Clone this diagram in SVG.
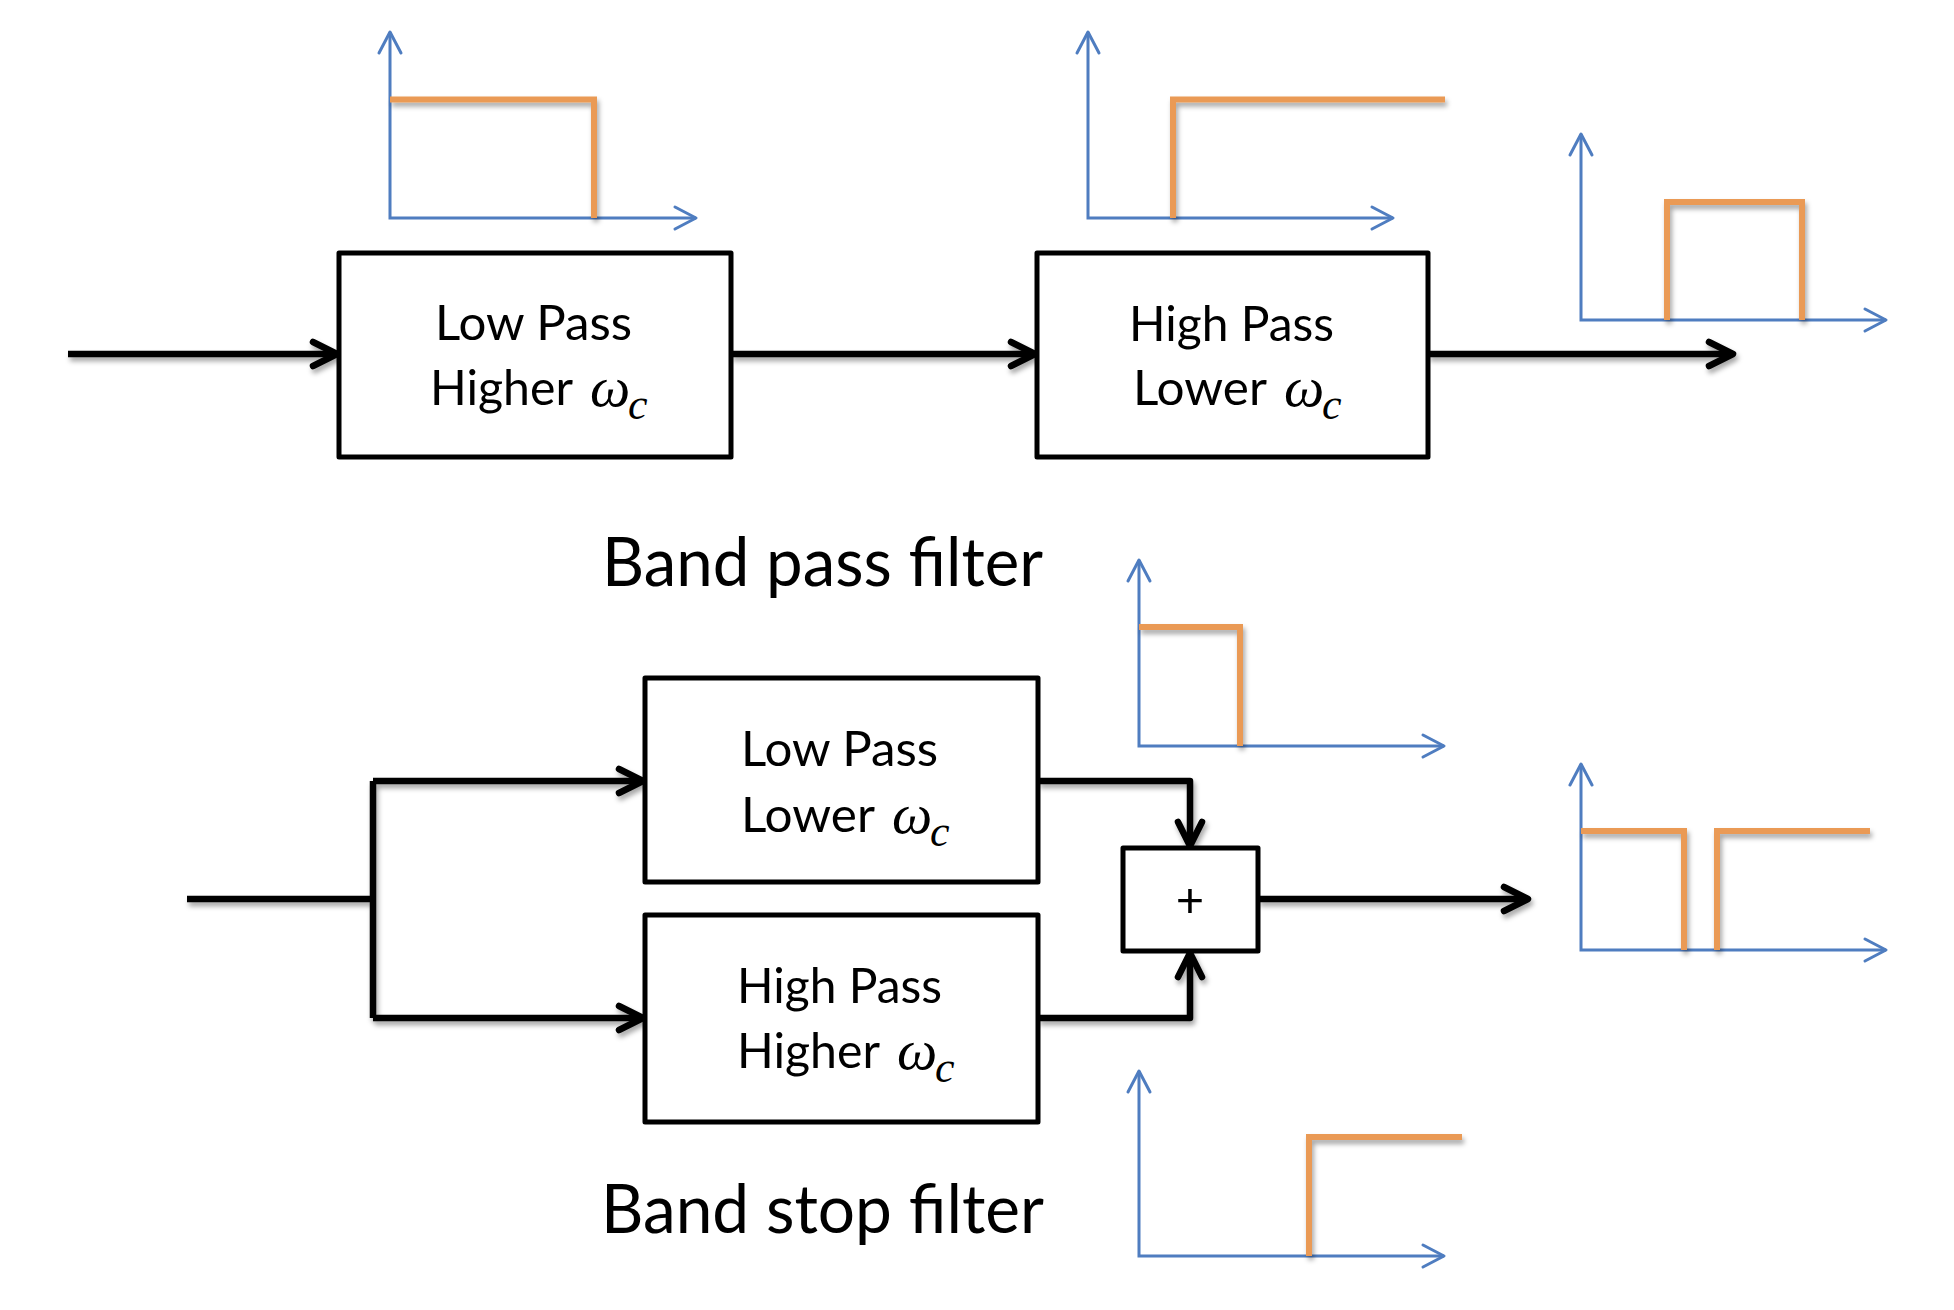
<svg xmlns="http://www.w3.org/2000/svg" width="1954" height="1310" viewBox="0 0 1954 1310">
<style>
.box{fill:#fff;stroke:#000;stroke-width:5;stroke-linejoin:round}
.wire{fill:none;stroke:#000;stroke-width:6.5;stroke-linejoin:round}
.arr{marker-end:url(#ah)}
.axis{fill:none;stroke:#4F7DC0;stroke-width:3;marker-start:url(#bh);marker-end:url(#bh)}
.resp{fill:none;stroke:#EA9A54;stroke-width:6;stroke-linejoin:miter}
.lbl{font-family:Lato,"Open Sans","Liberation Sans",sans-serif;font-size:49px;fill:#000}
.ttl{font-family:Lato,"Open Sans","Liberation Sans",sans-serif;font-size:67px;fill:#000}
.om{font-family:"Liberation Serif","DejaVu Serif",serif;font-style:italic;font-size:57px;fill:#000}
.sub{font-family:"Liberation Serif","DejaVu Serif",serif;font-style:italic;font-size:44px;fill:#000}
</style>
<defs>
<marker id="ah" markerUnits="userSpaceOnUse" markerWidth="40" markerHeight="40" viewBox="-30 -20 40 40" refX="0" refY="0" orient="auto" overflow="visible">
<path d="M-24,-12 L0,0 L-24,12" fill="none" stroke="#000" stroke-width="6.5" stroke-linecap="round" stroke-linejoin="round"/>
</marker>
<marker id="bh" markerUnits="userSpaceOnUse" markerWidth="40" markerHeight="40" viewBox="-30 -20 40 40" refX="0" refY="0" orient="auto-start-reverse" overflow="visible">
<path d="M-21,-11 L0,0 L-21,11" fill="none" stroke="#4F7DC0" stroke-width="3" stroke-linecap="round" stroke-linejoin="round"/>
</marker>
<filter id="sh" x="-10%" y="-10%" width="120%" height="130%">
<feDropShadow dx="2" dy="4" stdDeviation="2.5" flood-color="#000" flood-opacity="0.35"/>
</filter>
</defs>
<rect width="1954" height="1310" fill="#fff"/>

<g id="connectors" filter="url(#sh)">
<path class="wire arr" d="M68,354 H337"/>
<path class="wire arr" d="M731,354 H1035"/>
<path class="wire arr" d="M1428,354 H1733"/>
<path class="wire" d="M187,899 H373"/>
<path class="wire" d="M373,781 V1018"/>
<path class="wire arr" d="M373,781 H643"/>
<path class="wire arr" d="M373,1018 H643"/>
<path class="wire arr" d="M1038,781 H1190 V846"/>
<path class="wire arr" d="M1038,1018 H1190 V953"/>
<path class="wire arr" d="M1258,899 H1528"/>
</g>

<g id="lp-higher">
<rect class="box" x="339" y="253" width="392" height="204"/>
<text class="lbl" x="435" y="340" textLength="197" lengthAdjust="spacingAndGlyphs">Low Pass</text>
<text class="lbl" x="430" y="405" textLength="143" lengthAdjust="spacingAndGlyphs">Higher</text>
<text class="om" x="590" y="406">ω</text>
<text class="sub" x="628" y="419">c</text>
</g>

<g id="hp-lower">
<rect class="box" x="1037" y="253" width="391" height="204"/>
<text class="lbl" x="1129" y="341" textLength="205" lengthAdjust="spacingAndGlyphs">High Pass</text>
<text class="lbl" x="1133" y="405" textLength="134" lengthAdjust="spacingAndGlyphs">Lower</text>
<text class="om" x="1284" y="406">ω</text>
<text class="sub" x="1322" y="419">c</text>
</g>

<g id="lp-lower">
<rect class="box" x="645" y="678" width="393" height="204"/>
<text class="lbl" x="741" y="766" textLength="197" lengthAdjust="spacingAndGlyphs">Low Pass</text>
<text class="lbl" x="741" y="832" textLength="134" lengthAdjust="spacingAndGlyphs">Lower</text>
<text class="om" x="892" y="833">ω</text>
<text class="sub" x="930" y="846">c</text>
</g>

<g id="hp-higher">
<rect class="box" x="645" y="915" width="393" height="207"/>
<text class="lbl" x="737" y="1003" textLength="205" lengthAdjust="spacingAndGlyphs">High Pass</text>
<text class="lbl" x="737" y="1068" textLength="143" lengthAdjust="spacingAndGlyphs">Higher</text>
<text class="om" x="897" y="1069">ω</text>
<text class="sub" x="935" y="1082">c</text>
</g>

<g id="sum">
<rect class="box" x="1123" y="848" width="135" height="103"/>
<text class="lbl" x="1190" y="917" text-anchor="middle" font-size="42">+</text>
</g>

<g id="titles">
<text class="ttl" x="602" y="586" textLength="441" lengthAdjust="spacingAndGlyphs">Band pass filter</text>
<text class="ttl" x="601" y="1233" textLength="443" lengthAdjust="spacingAndGlyphs">Band stop filter</text>
</g>

<g id="graph-lp-higher">
<path class="axis" d="M390,32 V218 H696"/>
<path class="resp" filter="url(#sh)" d="M390,99.5 H594 V218"/>
</g>
<g id="graph-hp-lower">
<path class="axis" d="M1088,32 V218 H1393"/>
<path class="resp" filter="url(#sh)" d="M1173,218 V99.5 H1445"/>
</g>
<g id="graph-bandpass">
<path class="axis" d="M1581,134 V320 H1886"/>
<path class="resp" filter="url(#sh)" d="M1667,320 V202 H1802 V320"/>
</g>
<g id="graph-lp-lower">
<path class="axis" d="M1139,560 V746 H1444"/>
<path class="resp" filter="url(#sh)" d="M1139,627 H1240 V746"/>
</g>
<g id="graph-bandstop">
<path class="axis" d="M1581,764 V950 H1886"/>
<path class="resp" filter="url(#sh)" d="M1581,831 H1684 V950 M1717,950 V831 H1870"/>
</g>
<g id="graph-hp-higher">
<path class="axis" d="M1139,1071 V1256 H1444"/>
<path class="resp" filter="url(#sh)" d="M1309,1256 V1137 H1462"/>
</g>
</svg>
